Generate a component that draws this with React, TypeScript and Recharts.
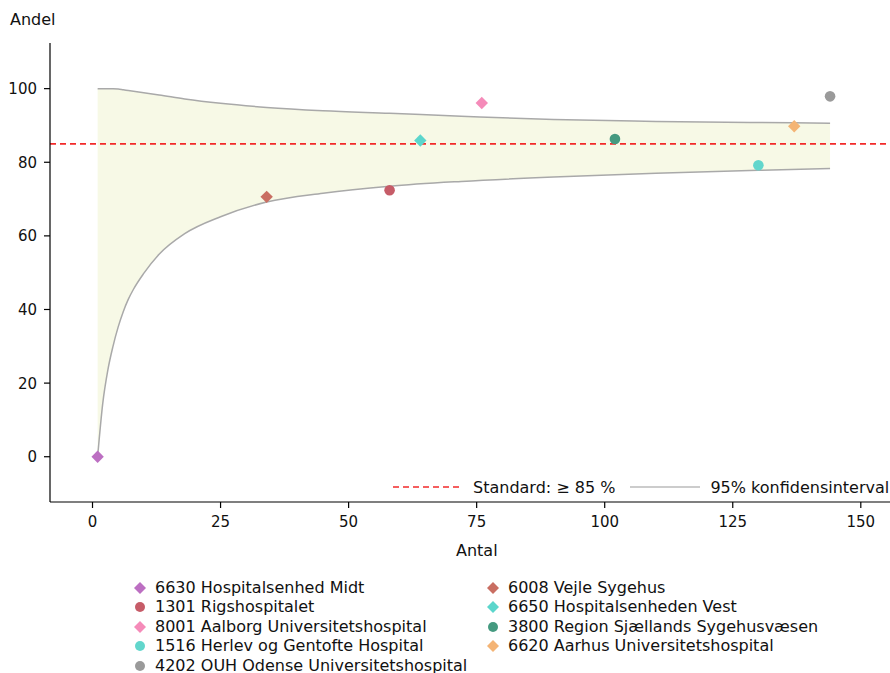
import React from 'react';
import { ComposedChart, XAxis, YAxis, Area, Line, Scatter, ReferenceLine } from 'recharts';

// Confidence interval (funnel)
const ciX = [1, 2, 3, 4, 5, 6, 7, 8, 10, 13, 18, 25, 34, 45, 58, 72, 90, 110, 130, 144];
const ciLower = [0, 14.5, 23.6, 30, 35.2, 39.4, 42.8, 45.5, 49.8, 55, 60.6, 65.2, 69.2, 71.6, 73.5, 74.8, 76.0, 77.0, 77.8, 78.3];
const ciUpper = [100, 100, 100, 100, 99.9, 99.7, 99.5, 99.3, 98.9, 98.3, 97.2, 96.0, 94.9, 94.0, 93.3, 92.5, 91.6, 91.1, 90.8, 90.6];

// Hospitals
const hospitals = [
  '6630 Hospitalsenhed Midt',
  '1301 Rigshospitalet',
  '8001 Aalborg Universitetshospital',
  '1516 Herlev og Gentofte Hospital',
  '4202 OUH Odense Universitetshospital',
  '6008 Vejle Sygehus',
  '6650 Hospitalsenheden Vest',
  '3800 Region Sjællands Sygehusvæsen',
  '6620 Aarhus Universitetshospital',
];
const antal = [1, 58, 76, 130, 144, 34, 64, 102, 137];
const andel = [0, 72.4, 96.1, 79.2, 97.9, 70.6, 85.9, 86.3, 89.8];
const shapes = ['diamond', 'circle', 'diamond', 'circle', 'circle', 'diamond', 'diamond', 'circle', 'diamond'];
const colors = ['#bc6fc2', '#c65c68', '#f58bb9', '#62d6cc', '#9a9a9a', '#c96e62', '#5cd6cc', '#459a80', '#f4b475'];

const xTicks = [0, 25, 50, 75, 100, 125, 150];
const yTicks = [0, 20, 40, 60, 80, 100];
const standard = 85;

const ciData = ciX.map((x, i) => ({ x, lower: ciLower[i], upper: ciUpper[i], range: [ciLower[i], ciUpper[i]] }));

const FONT = '"DejaVu Sans", sans-serif';
const TICK_FS = 15;

const XTick = (props: any) => {
  const { x, y, payload } = props;
  return (
    <text x={x} y={y + 16} textAnchor="middle" fontSize={TICK_FS} fill="#111" fontFamily={FONT}>{String(payload.value)}</text>
  );
};
const YTick = (props: any) => {
  const { x, y, payload } = props;
  return (
    <text x={x} y={y + 5.5} textAnchor="end" fontSize={TICK_FS} fill="#111" fontFamily={FONT}>{String(payload.value)}</text>
  );
};

const makeShape = (kind: string, color: string) => (props: any) => {
  const { cx, cy } = props;
  if (cx == null || cy == null) return <g />;
  if (kind === 'circle') return <circle cx={cx} cy={cy} r={5.3} fill={color} />;
  const d = 6.2;
  return <polygon points={`${cx},${cy - d} ${cx + d},${cy} ${cx},${cy + d} ${cx - d},${cy}`} fill={color} />;
};

const Marker = ({ kind, color }: { kind: string; color: string }) => (
  <svg width={14} height={14} style={{ display: 'block' }}>
    {kind === 'circle' ? (
      <circle cx={7} cy={7} r={5} fill={color} />
    ) : (
      <polygon points="7,1 13,7 7,13 1,7" fill={color} />
    )}
  </svg>
);

export default function App() {
  const col1 = [0, 1, 2, 3, 4];
  const col2 = [5, 6, 7, 8];
  const row = (i: number, left: number, r: number) => (
    <div key={i} style={{ position: 'absolute', left, top: 580 + r * 19.4, height: 16, lineHeight: '16px', display: 'flex', alignItems: 'center', whiteSpace: 'nowrap' }}>
      <Marker kind={shapes[i]} color={colors[i]} />
      <span style={{ marginLeft: 8, fontSize: 16, color: '#111' }}>{hospitals[i]}</span>
    </div>
  );
  return (
    <div style={{ position: 'absolute', left: 0, top: 0, width: 890, height: 673, fontFamily: FONT, background: '#fff' }}>
      <ComposedChart width={890} height={673} data={ciData} margin={{ top: 43, right: 0, bottom: 0, left: 0 }}>
        <XAxis
          type="number"
          dataKey="x"
          domain={[-8.3, 155.7]}
          ticks={xTicks}
          allowDataOverflow
          height={171}
          axisLine={{ stroke: '#000', strokeWidth: 1.2 }}
          tickLine={{ stroke: '#000', strokeWidth: 1.2 }}
          tickSize={6}
          tickMargin={3}
          tick={<XTick />}
        />
        <YAxis
          type="number"
          domain={[-12.3, 112.4]}
          ticks={yTicks}
          allowDataOverflow
          width={50}
          axisLine={{ stroke: '#000', strokeWidth: 1.2 }}
          tickLine={{ stroke: '#000', strokeWidth: 1.2 }}
          tickSize={6}
          tickMargin={7}
          tick={<YTick />}
        />
        <Area dataKey="range" type="monotone" stroke="none" fill="#f7f9e6" fillOpacity={1} isAnimationActive={false} />
        <Line dataKey="upper" type="monotone" stroke="#a9a9a9" strokeWidth={1.5} dot={false} isAnimationActive={false} />
        <Line dataKey="lower" type="monotone" stroke="#a9a9a9" strokeWidth={1.5} dot={false} isAnimationActive={false} />
        <ReferenceLine y={standard} stroke="#f22a2a" strokeWidth={1.6} strokeDasharray="6 4" />
        {hospitals.map((h, i) => (
          <Scatter
            key={h}
            name={h}
            data={[{ x: antal[i], y: andel[i] }]}
            dataKey="y"
            shape={makeShape(shapes[i], colors[i])}
            isAnimationActive={false}
          />
        ))}
      </ComposedChart>
      <div style={{ position: 'absolute', left: 10, top: 10, fontSize: 16, color: '#111' }}>Andel</div>
      <div style={{ position: 'absolute', left: 456, top: 541, fontSize: 16, color: '#111' }}>Antal</div>
      {/* in-plot legend */}
      <div style={{ position: 'absolute', left: 393, top: 477, height: 20, display: 'flex', alignItems: 'center', whiteSpace: 'nowrap', fontSize: 16, color: '#111' }}>
        <svg width={70} height={4} style={{ display: 'block' }}>
          <line x1={0} y1={2} x2={70} y2={2} stroke="#f22a2a" strokeWidth={1.5} strokeDasharray="6 4" />
        </svg>
        <span style={{ marginLeft: 10 }}>Standard: ≥ 85 %</span>
        <svg width={70} height={4} style={{ display: 'block', marginLeft: 15 }}>
          <line x1={0} y1={2} x2={70} y2={2} stroke="#bbbbbb" strokeWidth={1.5} />
        </svg>
        <span style={{ marginLeft: 10 }}>95% konfidensinterval</span>
      </div>
      {col1.map((i, r) => row(i, 133, r))}
      {col2.map((i, r) => row(i, 486, r))}
    </div>
  );
}
